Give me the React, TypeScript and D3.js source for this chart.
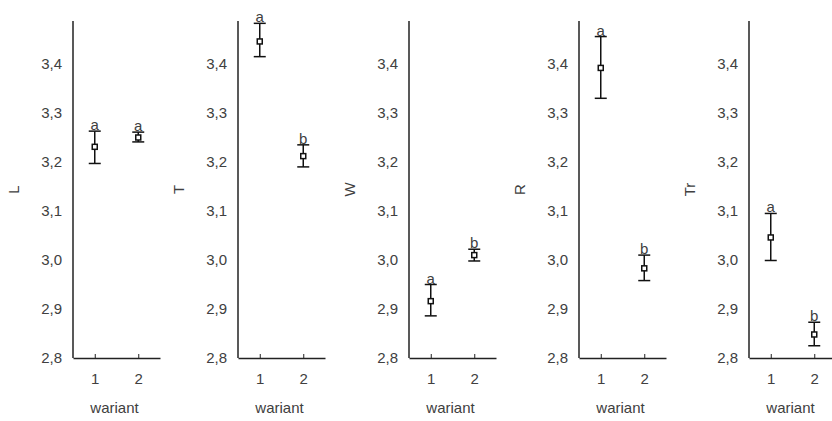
import React, { useEffect, useRef } from 'react'
import * as d3 from 'd3'

// one panel per measure, two variants each
const measures = ['L', 'T', 'W', 'R', 'Tr']
const variants = ['1', '2']
const means = [[3.231, 3.250], [3.446, 3.212], [2.916, 3.010], [3.392, 2.983], [3.046, 2.848]]
const upper = [[3.263, 3.261], [3.483, 3.235], [2.950, 3.022], [3.456, 3.010], [3.095, 2.873]]
const lower = [[3.197, 3.241], [3.415, 3.190], [2.886, 2.998], [3.330, 2.958], [2.999, 2.825]]
const groups = [['a', 'a'], ['a', 'b'], ['a', 'b'], ['a', 'b'], ['a', 'b']]
const yTicks = [2.8, 2.9, 3.0, 3.1, 3.2, 3.3, 3.4]
const xTitle = 'wariant'

export default function App() {
  const ref = useRef<SVGSVGElement>(null)

  useEffect(() => {
    const svg = d3.select(ref.current)
    svg.selectAll('*').remove()

    const font = '"Liberation Sans", Arial, sans-serif'
    const txt = '#404040'
    const panelLeft = [73, 238, 409, 579, 749]
    const panelW = 87
    const top = 21
    const bottom = 358

    const y = d3.scaleLinear().domain([2.8, 3.4]).range([bottom, 64])
    const x = d3.scalePoint().domain(variants).range([0, panelW]).padding(0.5)
    const fmt = (v: number) => d3.format('.1f')(v).replace('.', ',')

    measures.forEach((m, i) => {
      const g = svg.append('g').attr('transform', `translate(${panelLeft[i]},0)`)

      // y axis: labels only, no ticks
      const ya = g.append('g').call(d3.axisLeft(y).tickValues(yTicks).tickSize(0).tickPadding(11).tickFormat(d => fmt(+d)))
      ya.select('.domain').remove()
      ya.selectAll('text').attr('font-family', font).attr('font-size', 15).attr('fill', txt)

      g.append('line').attr('x1', 0).attr('x2', 0).attr('y1', top).attr('y2', bottom)
        .attr('stroke', '#222').attr('stroke-width', 1.5)

      // x axis
      const xa = g.append('g').attr('transform', `translate(0,${bottom})`)
        .call(d3.axisBottom(x).tickSizeInner(-4).tickSizeOuter(0).tickPadding(15))
      xa.select('.domain').attr('stroke', '#222').attr('stroke-width', 1.5)
      xa.selectAll('line').attr('stroke', '#222')
      xa.selectAll('text').attr('font-family', font).attr('font-size', 15).attr('fill', txt)

      g.append('text').attr('x', panelW / 2 - 2).attr('y', 413)
        .attr('text-anchor', 'middle').attr('font-family', font).attr('font-size', 15).attr('fill', txt)
        .text(xTitle)

      g.append('text').attr('transform', `translate(-54,${(top + bottom) / 2}) rotate(-90)`)
        .attr('text-anchor', 'middle').attr('font-family', font).attr('font-size', 15).attr('fill', txt)
        .text(m)

      // error bars
      variants.forEach((v, j) => {
        const cx = x(v) as number
        g.append('line').attr('x1', cx).attr('x2', cx).attr('y1', y(upper[i][j])).attr('y2', y(lower[i][j]))
          .attr('stroke', '#111').attr('stroke-width', 1.5)
        ;[upper[i][j], lower[i][j]].forEach(val => {
          g.append('line').attr('x1', cx - 6).attr('x2', cx + 6).attr('y1', y(val)).attr('y2', y(val))
            .attr('stroke', '#111').attr('stroke-width', 1.5)
        })
        g.append('rect').attr('x', cx - 2.5).attr('y', y(means[i][j]) - 2.5).attr('width', 5).attr('height', 5)
          .attr('fill', '#fff').attr('stroke', '#111').attr('stroke-width', 1.5)
        g.append('text').attr('x', cx).attr('y', y(upper[i][j]) - 1)
          .attr('text-anchor', 'middle').attr('font-family', font).attr('font-size', 15).attr('fill', txt)
          .text(groups[i][j])
      })
    })
  }, [])

  return (
    <svg ref={ref} width={832} height={421} style={{ position: 'absolute', left: 0, top: 0, background: '#fff' }} />
  )
}
